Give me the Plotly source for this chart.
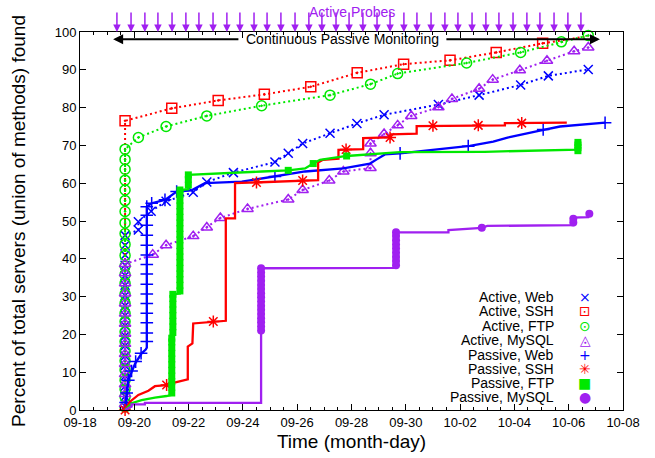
import plotly.graph_objects as go
from datetime import datetime, timedelta

# Day numbers: 18 = Sep 18, 30 = Sep 30, 31 = Oct 1, 38 = Oct 8
BASE = datetime(2012, 8, 31)


def T(days):
    return [BASE + timedelta(days=d) for d in days]


tick_days = [18, 20, 22, 24, 26, 28, 30, 32, 34, 36, 38]

# ---------------- Active (periodic probes) ----------------
first_scan_day = 19.66

aweb_col = [1.0, 3.6, 6.3, 9.0, 11.7, 14.3, 17.0, 19.6, 22.3, 25.0, 27.6, 30.3, 33.0, 35.6, 38.3, 41.0, 43.6, 46.2]
aweb_day = [20.15, 20.15, 20.62, 21.17, 22.17, 22.67, 23.65, 25.18, 25.67, 26.20, 27.21, 28.20, 29.20, 31.20, 32.70, 34.23, 35.25, 36.72]
aweb_pct = [47.6, 49.8, 52.6, 55.2, 57.6, 60.3, 62.8, 65.6, 67.9, 70.5, 73.2, 75.8, 78.1, 80.8, 83.3, 86.0, 88.4, 90.1]

assh_day = [19.66, 19.66, 21.38, 23.09, 24.79, 26.50, 28.21, 29.92, 31.63, 33.33, 35.04, 36.72]
assh_pct = [0.0, 76.5, 79.8, 81.9, 83.5, 85.5, 89.2, 91.5, 92.5, 94.6, 97.0, 98.9]

aftp_col = [0.8, 3.5, 5.5, 7.9, 10.6, 13.0, 15.6, 18.1, 20.7, 23.4, 25.6, 28.2, 30.7, 33.5, 35.8, 38.1,
            40.9, 43.8, 46.7, 49.5, 52.5, 55.4, 58.2, 60.8, 63.7, 66.3, 69.0]
aftp_day = [20.15, 21.17, 22.67, 24.69, 27.21, 28.70, 29.70, 32.24, 34.23, 35.73, 36.72]
aftp_pct = [72.1, 75.0, 77.8, 80.5, 83.3, 86.2, 89.0, 91.8, 94.6, 97.4, 99.1]

amy_col = [1.5, 4.2, 6.8, 9.5, 12.2, 14.8, 17.5, 20.2, 22.8, 25.5, 28.2, 30.8, 33.5, 36.2, 38.6]
amy_day = [20.68, 21.17, 22.17, 22.67, 23.17, 24.17, 25.67, 26.20, 27.18, 27.70, 28.70, 28.70, 28.70,
           29.20, 29.70, 30.20, 31.20, 31.70, 32.70, 33.20, 34.20, 35.20, 36.20, 36.72]
amy_pct = [41.1, 43.6, 46.0, 48.3, 50.8, 53.2, 55.7, 58.2, 60.7, 63.1, 64.0, 67.9, 70.5,
           73.0, 75.3, 77.8, 80.1, 82.3, 85.0, 87.4, 89.9, 92.4, 94.9, 95.9]

# ---------------- Passive (continuous monitoring) ----------------
pweb_day = [19.66, 19.78, 20.03, 20.27, 20.42, 20.46, 20.46, 20.64, 21.13, 21.56, 22.11, 22.60, 23.96, 25.06,
            26.29, 27.70, 28.68, 28.93, 29.23, 29.79, 31.01, 32.36, 33.22, 33.78, 34.94, 35.68, 37.34]
pweb_pct = [0.0, 7.9, 12.3, 15.0, 16.0, 16.5, 53.8, 54.7, 55.6, 57.8, 58.1, 60.0, 60.4, 61.7,
            63.1, 63.9, 65.2, 66.3, 67.6, 67.9, 68.8, 69.9, 71.0, 72.1, 73.9, 75.0, 76.0]
pweb_col_day = 20.46
pweb_col = [18.1, 20.4, 23.1, 25.6, 28.2, 30.7, 33.3, 36.0, 38.5, 41.0, 43.6, 46.2, 48.9, 51.5, 53.8]
pweb_mday = [19.68, 19.72, 19.78, 19.90, 20.05, 20.25, 20.64, 21.13, 21.56, 25.18, 29.79, 32.30, 35.06, 37.34]
pweb_mpct = [2.0, 4.5, 7.9, 10.3, 12.8, 15.0, 54.7, 55.6, 57.8, 61.8, 67.9, 69.8, 74.2, 76.0]

pssh_day = [19.66, 19.84, 20.15, 20.52, 20.76, 21.19, 21.44, 21.87, 21.97, 21.97, 22.14, 22.17, 22.91, 23.37,
            23.37, 23.71, 23.71, 24.50, 26.20, 26.77, 26.77, 26.95, 27.52, 27.52, 28.43, 28.43, 29.40, 29.45,
            30.40, 30.40, 33.65, 33.65, 35.93]
pssh_pct = [0.0, 2.2, 4.0, 5.1, 6.3, 6.6, 7.2, 7.9, 8.1, 16.8, 17.6, 22.9, 23.4, 23.6,
            50.7, 50.7, 60.0, 60.2, 60.7, 60.8, 65.5, 66.2, 66.5, 68.8, 69.0, 71.9, 72.1, 72.9,
            73.1, 75.1, 75.3, 75.9, 76.0]
pssh_mday = [19.66, 21.19, 22.91, 24.50, 26.20, 27.80, 29.42, 31.00, 32.67, 34.27]
pssh_mpct = [0.0, 6.6, 23.4, 60.2, 60.7, 68.9, 72.1, 75.2, 75.3, 75.9]

pftp_day = [19.66, 19.90, 20.27, 20.76, 21.19, 21.38, 21.38, 21.42, 21.42, 21.68, 21.68, 21.99, 21.99, 23.00,
            23.71, 24.70, 25.67, 26.29, 26.59, 26.84, 27.82, 29.79, 32.90, 36.34, 36.34]
pftp_pct = [0.0, 1.8, 2.6, 3.3, 3.7, 4.0, 19.0, 19.2, 30.6, 30.8, 58.2, 58.4, 62.2, 62.6,
            62.8, 63.1, 63.4, 63.9, 65.2, 66.2, 67.2, 68.2, 68.3, 68.9, 70.8]
pftp_blocks = {
    21.38: [4.5, 6.0, 7.5, 9.0, 10.5, 12.0, 13.5, 15.0, 16.5, 18.0, 19.0],
    21.42: [20.5, 22.0, 23.5, 25.0, 26.5, 28.0, 29.5, 30.6],
    21.68: [31.5, 33.0, 34.5, 36.0, 37.5, 39.0, 40.5, 42.0, 43.5, 45.0, 46.5, 48.0, 49.5, 51.0,
            52.5, 54.0, 55.5, 57.0, 58.2],
    21.99: [59.5, 61.0, 62.2],
    36.34: [68.6, 69.4, 70.1, 70.8],
}
pftp_mday = [25.67, 26.59, 27.82]
pftp_mpct = [63.4, 65.2, 67.2]

pmy_day = [19.66, 19.90, 19.90, 20.39, 20.39, 24.67, 24.67, 29.55, 29.62, 29.66, 31.57, 31.57, 32.80, 33.00,
           36.17, 36.17, 36.72, 36.76]
pmy_pct = [0.0, 0.9, 1.5, 1.5, 1.9, 1.9, 37.5, 37.6, 37.9, 47.0, 47.0, 47.6, 48.2, 48.7,
           48.9, 50.9, 51.0, 51.9]
pmy_blocks = {
    24.67: [21.0, 22.1, 23.2, 24.3, 25.4, 26.5, 27.6, 28.7, 29.8, 30.9, 32.0, 33.1, 34.2, 35.3, 36.4, 37.5],
    29.64: [38.3, 39.4, 40.5, 41.6, 42.7, 43.8, 44.9, 46.0, 47.0],
}
pmy_mday = [32.80, 36.17, 36.17, 36.76]
pmy_mpct = [48.2, 49.6, 50.6, 51.9]

# Active probe times (arrows at the top)
probe_days = [19.36, 19.88, 20.39, 20.87, 21.39, 21.90, 22.38, 22.90, 23.41, 23.89, 24.41, 24.89,
              25.40, 25.92, 26.43, 26.91, 27.43, 27.91, 28.42, 28.94, 29.42, 29.93, 30.41, 30.93,
              31.44, 31.92, 32.44, 32.95, 33.43, 33.95, 34.46, 34.94, 35.46, 35.97, 36.45]

legend_labels = ["Active, Web", "Active, SSH", "Active, FTP", "Active, MySQL",
                 "Passive, Web", "Passive, SSH", "Passive, FTP", "Passive, MySQL"]

BLUE = "#0000ff"
RED = "#ff0000"
GREEN = "#00e800"
PURPLE = "#a020f0"

fig = go.Figure()


def add_active(col_vals, days, pcts, color, symbol, size, skip_first=False, skip_last=False):
    xs = [first_scan_day] * len(col_vals) + list(days)
    ys = list(col_vals) + list(pcts)
    fig.add_trace(go.Scatter(x=T(xs), y=ys, mode="lines",
                             line=dict(color=color, width=2, dash="2px,3px"),
                             hoverinfo="skip"))
    mx, my = xs, ys
    if skip_first:
        mx, my = mx[1:], my[1:]
    if skip_last:
        mx, my = mx[:-1], my[:-1]
    fig.add_trace(go.Scatter(x=T(mx), y=my, mode="markers", cliponaxis=False,
                             marker=dict(symbol=symbol, size=size, color=color,
                                         line=dict(color=color, width=1.5))))


add_active(aweb_col, aweb_day, aweb_pct, BLUE, "x-thin-open", 9)
add_active([], assh_day, assh_pct, RED, "square-open-dot", 10, skip_first=True, skip_last=True)
add_active(aftp_col, aftp_day, aftp_pct, GREEN, "circle-open-dot", 10)
add_active(amy_col, amy_day, amy_pct, PURPLE, "triangle-up-open-dot", 10)


def add_passive(days, pcts, mdays, mpcts, color, symbol, size, mline=1.5):
    fig.add_trace(go.Scatter(x=T(days), y=pcts, mode="lines",
                             line=dict(color=color, width=2.3), hoverinfo="skip"))
    fig.add_trace(go.Scatter(x=T(mdays), y=mpcts, mode="markers", cliponaxis=False,
                             marker=dict(symbol=symbol, size=size, color=color,
                                         line=dict(color=color, width=mline))))


add_passive(pweb_day, pweb_pct,
            pweb_mday[:6] + [pweb_col_day] * len(pweb_col) + pweb_mday[6:],
            pweb_mpct[:6] + pweb_col + pweb_mpct[6:],
            BLUE, "cross-thin-open", 9)
add_passive(pssh_day, pssh_pct, pssh_mday, pssh_mpct, RED, "asterisk-open", 10)
fx, fy = [], []
for d, vals in pftp_blocks.items():
    fx += [d] * len(vals)
    fy += vals
add_passive(pftp_day, pftp_pct, fx + pftp_mday, fy + pftp_mpct, GREEN, "square", 7, mline=0)
mx, my = [], []
for d, vals in pmy_blocks.items():
    mx += [d] * len(vals)
    my += vals
add_passive(pmy_day, pmy_pct, mx + pmy_mday, my + pmy_mpct, PURPLE, "circle", 8, mline=0)

annotations = []
# active probe arrows
for d in probe_days:
    annotations.append(dict(x=T([d])[0], xref="x", y=1.0, yref="paper", ax=0, ay=-21,
                            text="", showarrow=True, arrowhead=2, arrowsize=1,
                            arrowwidth=1.5, arrowcolor=PURPLE))
annotations.append(dict(x=T([28.02])[0], xref="x", y=1.052, yref="paper", text="Active Probes",
                        showarrow=False, font=dict(size=14, color=PURPLE), xanchor="center",
                        yanchor="middle"))
# continuous passive monitoring arrows
annotations.append(dict(x=T([19.22])[0], y=98.1, xref="x", yref="y",
                        ax=T([23.89])[0], ay=98.1, axref="x", ayref="y",
                        text="", showarrow=True, arrowhead=2, arrowsize=1, arrowwidth=2,
                        arrowcolor="black"))
annotations.append(dict(x=T([37.15])[0], y=98.1, xref="x", yref="y",
                        ax=T([31.44])[0], ay=98.1, axref="x", ayref="y",
                        text="", showarrow=True, arrowhead=2, arrowsize=1, arrowwidth=2,
                        arrowcolor="black"))
annotations.append(dict(x=T([27.67])[0], y=98.1, xref="x", yref="y",
                        text="Continuous Passive Monitoring", showarrow=False,
                        font=dict(size=14, color="black"), xanchor="center", yanchor="middle"))

# legend (gnuplot style: right-aligned text, symbol to the right)
legend_glyphs = ["×", "⊡", "⊙", "◬", "+", "✳", "■", "●"]
legend_colors = [BLUE, RED, GREEN, PURPLE, BLUE, RED, GREEN, PURPLE]
row_y = [0.299, 0.261, 0.222, 0.185, 0.146, 0.108, 0.071, 0.034]
for lab, g, c, yy in zip(legend_labels, legend_glyphs, legend_colors, row_y):
    annotations.append(dict(x=0.877, y=yy, xref="paper", yref="paper", text=lab,
                            showarrow=False, xanchor="right", yanchor="middle",
                            font=dict(size=14, color="black")))
    annotations.append(dict(x=0.930, y=yy, xref="paper", yref="paper", text=g,
                            showarrow=False, xanchor="center", yanchor="middle",
                            font=dict(size=14, color=c, family="DejaVu Sans")))

fig.update_layout(
    width=655, height=458,
    margin=dict(l=80, r=32, t=32, b=48),
    paper_bgcolor="white", plot_bgcolor="white",
    showlegend=False,
    font=dict(family="Liberation Sans, Arial, sans-serif", size=13, color="black"),
    annotations=annotations,
    xaxis=dict(
        range=[T([18])[0], T([38])[0]], type="date",
        tickmode="array", tickvals=T(tick_days), tickformat="%m-%d",
        ticks="inside", ticklen=6, tickwidth=1, tickcolor="black",
        showline=True, linecolor="black", linewidth=1, mirror="allticks",
        showgrid=False, zeroline=False, automargin=False,
        minor=dict(tickmode="linear", tick0=T([18])[0], dtick=43200000, ticks="inside",
                   ticklen=3, tickcolor="black", showgrid=False),
        title=dict(text="Time (month-day)", font=dict(size=19), standoff=6),
    ),
    yaxis=dict(
        range=[0, 100], tickmode="linear", tick0=0, dtick=10,
        ticks="inside", ticklen=6, tickwidth=1, tickcolor="black",
        showline=True, linecolor="black", linewidth=1, mirror="allticks",
        showgrid=False, zeroline=False, automargin=False,
        title=dict(text="Percent of total servers (union of methods) found", font=dict(size=19),
                   standoff=24),
    ),
)

fig.write_html("out.html", config={"displayModeBar": False},
               post_script="document.body.style.margin='0px';document.body.style.padding='0px';")
